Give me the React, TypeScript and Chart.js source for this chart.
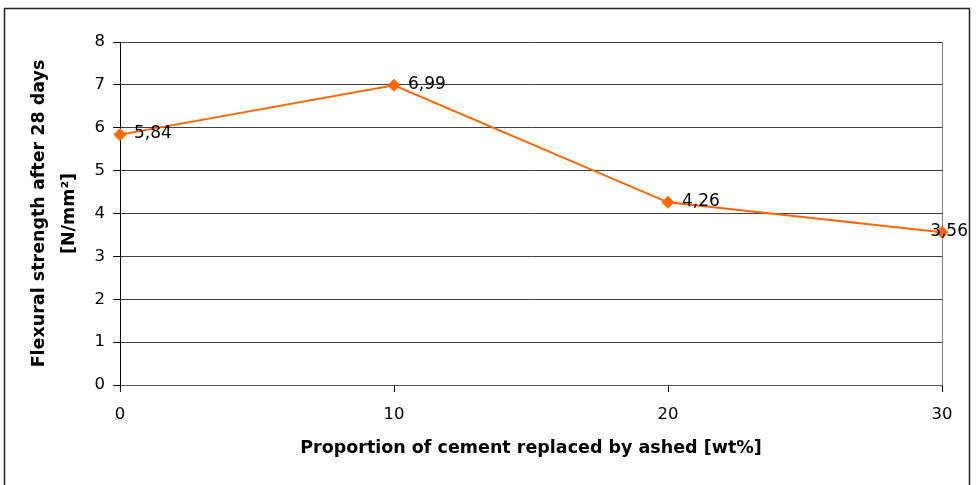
import { useEffect, useRef } from 'react';
import { Chart, registerables } from 'chart.js';

Chart.register(...registerables);

// Flexural strength after 28 days vs. share of cement replaced by ash
const replacementPct = [0, 10, 20, 30];
const flexuralStrength = [5.84, 6.99, 4.26, 3.56];
const xTickValues = [0, 10, 20, 30];
const xTitle = 'Proportion of cement replaced by ashed [wt%]';
const yTitle = ['Flexural strength after 28 days', '[N/mm²]'];

const FONT = "'DejaVu Sans', 'Liberation Sans', Arial, sans-serif";
const ORANGE = '#FF6600';

// White background and the outer frame
const frame = {
  id: 'frame',
  beforeDraw(chart: any) {
    const ctx = chart.ctx;
    ctx.save();
    ctx.fillStyle = '#fff';
    ctx.fillRect(0, 0, chart.width, chart.height);
    ctx.restore();
  },
  afterDraw(chart: any) {
    const ctx = chart.ctx;
    ctx.save();
    ctx.strokeStyle = '#222';
    ctx.lineWidth = 1.5;
    ctx.strokeRect(4.5, 8.5, 965, 490);
    ctx.restore();
  },
};

// Value labels to the right of each point, comma as decimal separator
const valueLabels = {
  id: 'valueLabels',
  afterDatasetsDraw(chart: any) {
    const ctx = chart.ctx;
    const meta = chart.getDatasetMeta(0);
    ctx.save();
    ctx.font = `17px ${FONT}`;
    ctx.fillStyle = '#000';
    ctx.textBaseline = 'middle';
    ctx.textAlign = 'left';
    meta.data.forEach((pt: any, i: number) => {
      const text = flexuralStrength[i].toFixed(2).replace('.', ',');
      const w = ctx.measureText(text).width;
      let x = pt.x + 14;
      if (x + w > 968) x = 968 - w;
      ctx.fillText(text, x, pt.y - 1);
    });
    ctx.restore();
  },
};

export default function App() {
  const ref = useRef<HTMLCanvasElement>(null);

  useEffect(() => {
    const chart = new Chart(ref.current!, {
      type: 'line',
      data: {
        datasets: [
          {
            data: replacementPct.map((x, i) => ({ x, y: flexuralStrength[i] })),
            borderColor: ORANGE,
            backgroundColor: ORANGE,
            borderWidth: 2,
            pointStyle: 'rectRot',
            pointRadius: 6,
            pointHoverRadius: 6,
            pointBorderWidth: 1,
            tension: 0,
            clip: false as any,
          },
        ],
      },
      options: {
        animation: false,
        responsive: true,
        maintainAspectRatio: false,
        events: [],
        layout: { padding: { left: 0, top: 42, right: 34, bottom: 0 } },
        plugins: { legend: { display: false }, tooltip: { enabled: false } },
        scales: {
          x: {
            type: 'linear',
            min: 0,
            max: 30,
            afterBuildTicks: (s: any) => {
              s.ticks = xTickValues.map((v) => ({ value: v }));
            },
            ticks: {
              color: '#000',
              font: { family: FONT, size: 16.5 },
              padding: 13,
              maxRotation: 0,
            },
            grid: {
              color: (c: any) => (c.tick && c.tick.value === 30 ? '#808080' : 'rgba(0,0,0,0)'),
              tickColor: '#000',
              tickLength: 7,
              lineWidth: 1,
            },
            border: { display: true, color: '#555', width: 1 },
            title: {
              display: true,
              text: xTitle,
              color: '#000',
              font: { family: FONT, size: 17.5, weight: 'bold' },
              padding: { top: 0, bottom: 26 },
            },
            afterFit: (s: any) => {
              s.height = 100;
            },
          },
          y: {
            min: 0,
            max: 8,
            ticks: {
              stepSize: 1,
              color: '#000',
              font: { family: FONT, size: 16.5 },
              padding: 8,
            },
            grid: { color: '#404040', tickColor: '#000', tickLength: 7, lineWidth: 1 },
            border: { display: true, color: '#000', width: 1 },
            title: {
              display: true,
              text: yTitle,
              color: '#000',
              font: { family: FONT, size: 17.5, weight: 'bold', lineHeight: 30 / 17.5 },
              padding: { top: 24, bottom: 0 },
            },
            afterFit: (s: any) => {
              s.width = 120;
            },
          },
        },
      } as any,
      plugins: [frame, valueLabels],
    });
    return () => chart.destroy();
  }, []);

  return (
    <div style={{ position: 'fixed', left: 0, top: 0, width: 976, height: 485, background: '#fff' }}>
      <canvas ref={ref} />
    </div>
  );
}
